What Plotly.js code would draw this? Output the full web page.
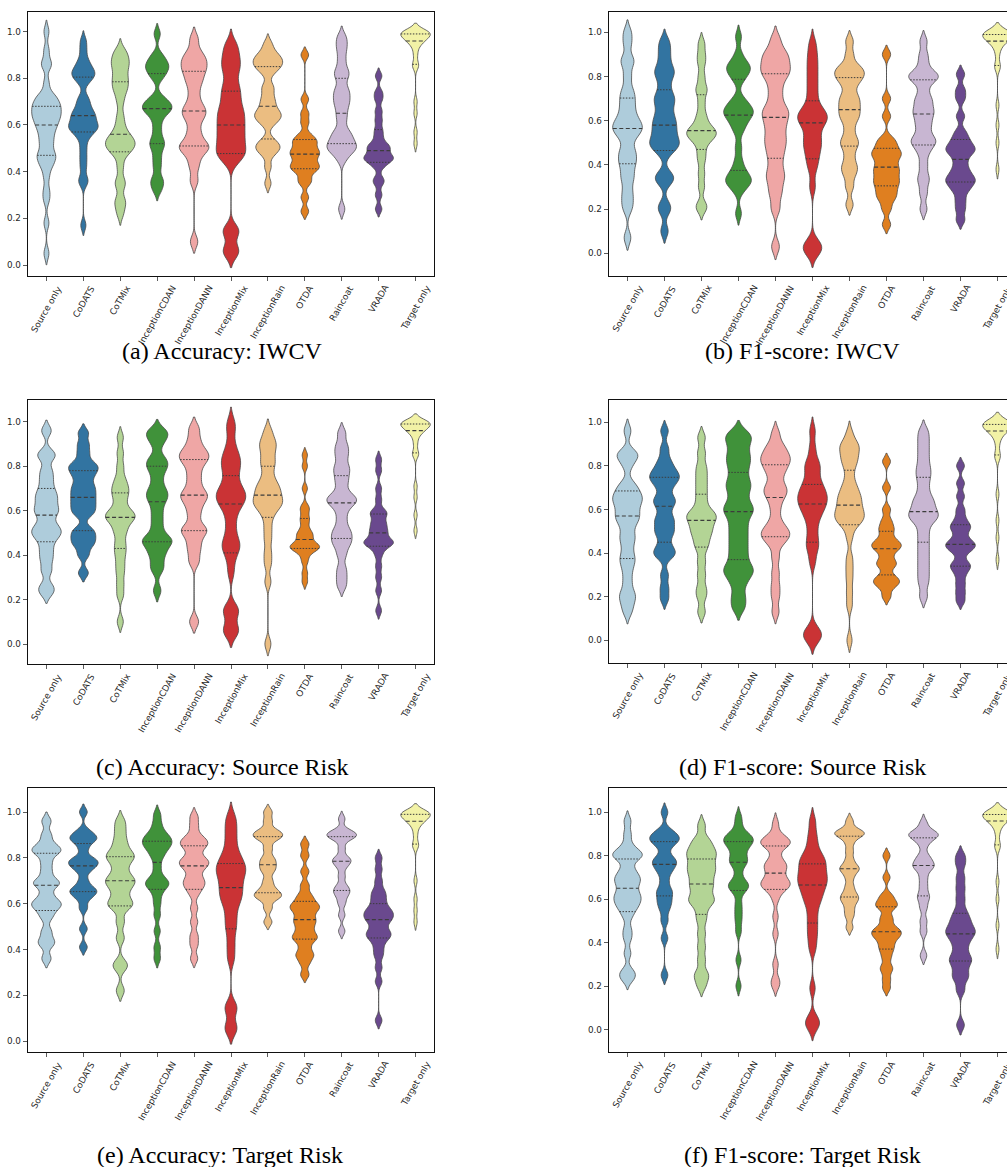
<!DOCTYPE html>
<html><head><meta charset="utf-8">
<script src="https://cdn.plot.ly/plotly-3.0.1.min.js"></script>
<style>html,body{margin:0;padding:0;overflow:hidden;background:#fff}#chart{width:1020px;height:1167px}</style>
</head><body><div id="chart"></div>
<script>
const categories = ["Source only","CoDATS","CoTMix","InceptionCDAN","InceptionDANN","InceptionMix","InceptionRain","OTDA","Raincoat","VRADA","Target only"];
const captions = ["(a) Accuracy: IWCV","(b) F1-score: IWCV","(c) Accuracy: Source Risk","(d) F1-score: Source Risk","(e) Accuracy: Target Risk","(f) F1-score: Target Risk"];
const yTicks = [0.0,0.2,0.4,0.6,0.8,1.0];
const palette = ["#a6cee3","#1f78b4","#b2df8a","#33a02c","#fb9a99","#e31a1c","#fdbf6f","#ff7f00","#cab2d6","#6a3d9a","#ffff99"];

// (a) Accuracy: IWCV  (one sample list per category, same order as categories)
const accIwcv = [
 [0.05,0.18,0.28,0.32,0.38,0.43,0.43,0.47,0.47,0.47,0.52,0.52,0.56,0.56,0.6,0.6,0.6,0.64,0.64,0.64,0.64,0.68,0.68,0.68,0.68,0.72,0.72,0.72,0.78,0.86,0.86,0.92,1.0],
 [0.17,0.35,0.37,0.42,0.46,0.5,0.54,0.56,0.58,0.58,0.59,0.6,0.6,0.62,0.63,0.64,0.65,0.66,0.68,0.7,0.72,0.78,0.8,0.81,0.82,0.83,0.84,0.86,0.88,0.92,0.96],
 [0.22,0.26,0.28,0.34,0.36,0.42,0.47,0.49,0.5,0.51,0.52,0.53,0.54,0.55,0.57,0.6,0.64,0.7,0.74,0.76,0.78,0.8,0.82,0.85,0.86,0.88,0.9,0.92],
 [0.32,0.35,0.37,0.42,0.46,0.5,0.52,0.54,0.58,0.62,0.65,0.66,0.67,0.68,0.69,0.7,0.72,0.8,0.82,0.84,0.85,0.86,0.88,0.9,0.99],
 [0.1,0.36,0.42,0.46,0.49,0.5,0.51,0.52,0.55,0.58,0.62,0.64,0.66,0.67,0.7,0.74,0.78,0.8,0.83,0.84,0.86,0.88,0.89,0.92,0.97],
 [0.05,0.06,0.065,0.14,0.145,0.15,0.44,0.46,0.47,0.48,0.5,0.5,0.52,0.54,0.55,0.56,0.58,0.6,0.6,0.62,0.64,0.65,0.66,0.68,0.7,0.72,0.74,0.76,0.78,0.82,0.84,0.86,0.88,0.9,0.93,0.95],
 [0.35,0.42,0.47,0.49,0.5,0.51,0.52,0.54,0.6,0.62,0.63,0.64,0.65,0.66,0.68,0.7,0.72,0.75,0.77,0.82,0.84,0.85,0.86,0.87,0.88,0.89,0.9,0.92,0.95],
 [0.23,0.29,0.35,0.37,0.4,0.41,0.42,0.43,0.44,0.46,0.47,0.48,0.49,0.5,0.52,0.53,0.54,0.56,0.61,0.65,0.71,0.9],
 [0.24,0.45,0.48,0.49,0.5,0.51,0.52,0.53,0.55,0.56,0.58,0.62,0.65,0.68,0.7,0.72,0.74,0.76,0.8,0.82,0.84,0.88,0.92,0.95,0.98],
 [0.24,0.3,0.35,0.37,0.42,0.44,0.45,0.46,0.46,0.47,0.49,0.5,0.51,0.52,0.55,0.58,0.62,0.66,0.71,0.74,0.81],
 [0.52,0.57,0.65,0.7,0.85,0.86,0.9,0.93,0.95,0.96,0.96,0.97,0.98,0.98,0.99,0.99,0.99,1.0,1.0,1.0,1.0]
];
// (b) F1-score: IWCV
const f1Iwcv = [
 [0.07,0.2,0.24,0.28,0.33,0.36,0.4,0.42,0.45,0.47,0.52,0.54,0.56,0.57,0.58,0.6,0.62,0.65,0.68,0.71,0.74,0.8,0.86,0.88,0.95,1.0],
 [0.1,0.19,0.22,0.32,0.34,0.36,0.45,0.48,0.49,0.5,0.52,0.54,0.56,0.58,0.6,0.62,0.65,0.68,0.7,0.72,0.76,0.8,0.82,0.84,0.88,0.92,0.96],
 [0.2,0.22,0.3,0.36,0.42,0.46,0.5,0.52,0.53,0.54,0.55,0.56,0.57,0.6,0.63,0.68,0.73,0.75,0.8,0.86,0.9,0.95],
 [0.18,0.28,0.31,0.32,0.33,0.34,0.36,0.38,0.42,0.48,0.55,0.58,0.6,0.62,0.63,0.64,0.65,0.66,0.68,0.7,0.78,0.81,0.82,0.84,0.85,0.86,0.9,0.98],
 [0.03,0.2,0.26,0.3,0.34,0.36,0.4,0.44,0.47,0.5,0.52,0.55,0.58,0.6,0.63,0.64,0.66,0.7,0.74,0.78,0.81,0.82,0.84,0.86,0.88,0.9,0.92,0.97],
 [0.0,0.02,0.03,0.05,0.3,0.38,0.42,0.45,0.48,0.5,0.52,0.55,0.58,0.6,0.6,0.62,0.63,0.64,0.66,0.7,0.74,0.78,0.82,0.86,0.9,0.95],
 [0.22,0.3,0.35,0.38,0.4,0.44,0.48,0.5,0.52,0.56,0.6,0.62,0.64,0.66,0.68,0.7,0.72,0.76,0.78,0.8,0.81,0.82,0.84,0.85,0.9,0.96],
 [0.13,0.2,0.24,0.26,0.28,0.3,0.32,0.33,0.35,0.37,0.38,0.4,0.42,0.44,0.45,0.46,0.48,0.5,0.52,0.62,0.7,0.9],
 [0.2,0.27,0.32,0.35,0.4,0.45,0.48,0.5,0.51,0.52,0.55,0.58,0.6,0.63,0.64,0.66,0.69,0.7,0.74,0.78,0.79,0.8,0.81,0.82,0.86,0.9,0.96],
 [0.15,0.2,0.24,0.28,0.3,0.32,0.33,0.34,0.36,0.38,0.41,0.44,0.46,0.47,0.48,0.5,0.52,0.55,0.62,0.7,0.74,0.81],
 [0.38,0.5,0.58,0.67,0.84,0.85,0.9,0.93,0.95,0.96,0.96,0.97,0.98,0.98,0.99,0.99,0.99,1.0,1.0,1.0,1.0]
];
// (c) Accuracy: Source Risk
const accSrc = [
 [0.23,0.26,0.33,0.38,0.42,0.46,0.49,0.5,0.52,0.54,0.58,0.6,0.62,0.65,0.67,0.7,0.74,0.78,0.84,0.86,0.96],
 [0.32,0.4,0.44,0.46,0.48,0.5,0.52,0.58,0.6,0.62,0.64,0.66,0.68,0.7,0.72,0.75,0.77,0.79,0.8,0.82,0.86,0.9,0.95],
 [0.1,0.22,0.27,0.32,0.36,0.4,0.43,0.46,0.5,0.52,0.55,0.56,0.57,0.58,0.59,0.6,0.63,0.66,0.68,0.7,0.72,0.75,0.8,0.86,0.93],
 [0.24,0.33,0.36,0.4,0.42,0.45,0.46,0.47,0.48,0.52,0.56,0.6,0.64,0.66,0.68,0.7,0.74,0.78,0.8,0.82,0.84,0.9,0.93,0.95,0.96],
 [0.1,0.37,0.42,0.46,0.5,0.51,0.53,0.58,0.62,0.65,0.67,0.68,0.72,0.76,0.8,0.83,0.84,0.86,0.88,0.92,0.97],
 [0.05,0.06,0.07,0.14,0.15,0.16,0.32,0.38,0.42,0.44,0.45,0.48,0.52,0.56,0.6,0.62,0.64,0.65,0.66,0.68,0.68,0.7,0.72,0.75,0.78,0.8,0.82,0.84,0.86,0.9,0.96,1.0],
 [0.0,0.28,0.36,0.41,0.47,0.52,0.57,0.6,0.62,0.63,0.64,0.65,0.67,0.68,0.7,0.71,0.73,0.76,0.8,0.82,0.85,0.88,0.9,0.92,0.96],
 [0.28,0.32,0.37,0.4,0.42,0.43,0.43,0.44,0.44,0.45,0.46,0.48,0.49,0.5,0.52,0.55,0.57,0.6,0.62,0.7,0.8,0.85],
 [0.26,0.3,0.34,0.4,0.44,0.46,0.48,0.5,0.52,0.56,0.6,0.63,0.64,0.65,0.66,0.68,0.72,0.75,0.78,0.8,0.84,0.87,0.9,0.95],
 [0.15,0.24,0.3,0.35,0.4,0.43,0.45,0.45,0.46,0.46,0.47,0.5,0.5,0.52,0.54,0.55,0.58,0.59,0.6,0.65,0.7,0.78,0.83],
 [0.51,0.58,0.66,0.71,0.85,0.86,0.9,0.93,0.95,0.96,0.96,0.97,0.98,0.98,0.99,0.99,0.99,1.0,1.0,1.0,1.0]
];
// (d) F1-score: Source Risk
const f1Src = [
 [0.13,0.17,0.2,0.22,0.27,0.32,0.36,0.38,0.42,0.46,0.48,0.52,0.55,0.56,0.58,0.6,0.62,0.64,0.65,0.66,0.68,0.7,0.72,0.8,0.84,0.85,0.86,0.96],
 [0.19,0.24,0.3,0.38,0.4,0.41,0.44,0.48,0.5,0.52,0.55,0.56,0.6,0.63,0.64,0.66,0.7,0.72,0.74,0.75,0.76,0.78,0.8,0.83,0.88,0.96],
 [0.13,0.2,0.24,0.3,0.36,0.42,0.45,0.48,0.5,0.52,0.54,0.56,0.57,0.58,0.6,0.64,0.68,0.72,0.76,0.8,0.86,0.93],
 [0.15,0.2,0.26,0.3,0.32,0.34,0.38,0.42,0.46,0.5,0.54,0.58,0.6,0.62,0.66,0.7,0.72,0.76,0.8,0.83,0.86,0.9,0.93,0.95],
 [0.13,0.2,0.25,0.31,0.38,0.44,0.46,0.48,0.49,0.5,0.52,0.55,0.6,0.64,0.67,0.68,0.7,0.72,0.76,0.78,0.8,0.82,0.83,0.84,0.86,0.88,0.9,0.95],
 [0.0,0.02,0.03,0.05,0.36,0.42,0.44,0.48,0.52,0.56,0.58,0.6,0.62,0.63,0.64,0.66,0.67,0.68,0.7,0.72,0.74,0.78,0.8,0.82,0.88,0.96],
 [0.0,0.16,0.22,0.28,0.33,0.38,0.47,0.52,0.54,0.55,0.56,0.57,0.58,0.6,0.6,0.62,0.64,0.65,0.66,0.68,0.7,0.72,0.76,0.8,0.82,0.84,0.86,0.88,0.9,0.9,0.95],
 [0.2,0.24,0.26,0.27,0.28,0.3,0.34,0.35,0.37,0.4,0.42,0.43,0.44,0.45,0.47,0.5,0.52,0.55,0.6,0.7,0.82],
 [0.2,0.26,0.3,0.34,0.38,0.42,0.46,0.5,0.54,0.56,0.57,0.58,0.6,0.62,0.64,0.66,0.7,0.74,0.77,0.8,0.84,0.88,0.92,0.96],
 [0.18,0.22,0.26,0.3,0.33,0.34,0.36,0.4,0.42,0.43,0.44,0.45,0.47,0.5,0.52,0.53,0.56,0.6,0.66,0.72,0.8],
 [0.37,0.47,0.55,0.67,0.84,0.85,0.9,0.93,0.95,0.96,0.96,0.97,0.98,0.98,0.99,0.99,0.99,1.0,1.0,1.0,1.0]
];
// (e) Accuracy: Target Risk
const accTgt = [
 [0.36,0.42,0.44,0.48,0.54,0.57,0.59,0.6,0.61,0.64,0.68,0.69,0.7,0.74,0.78,0.82,0.83,0.84,0.86,0.9,0.96],
 [0.41,0.49,0.58,0.62,0.64,0.65,0.66,0.67,0.7,0.74,0.76,0.77,0.78,0.79,0.8,0.84,0.87,0.88,0.89,0.9,0.92,1.0],
 [0.22,0.32,0.34,0.45,0.52,0.58,0.6,0.6,0.63,0.66,0.68,0.7,0.7,0.72,0.75,0.78,0.8,0.81,0.82,0.85,0.88,0.92,0.96],
 [0.36,0.41,0.48,0.55,0.6,0.64,0.67,0.68,0.69,0.7,0.72,0.76,0.8,0.82,0.84,0.85,0.86,0.87,0.88,0.89,0.9,0.92,0.95,0.99],
 [0.36,0.42,0.46,0.52,0.58,0.64,0.67,0.68,0.7,0.71,0.74,0.76,0.77,0.78,0.79,0.8,0.83,0.85,0.86,0.87,0.88,0.9,0.94,0.98],
 [0.05,0.06,0.14,0.15,0.36,0.42,0.48,0.52,0.56,0.6,0.62,0.64,0.66,0.68,0.7,0.72,0.74,0.75,0.76,0.78,0.8,0.82,0.86,0.9,0.94,0.98],
 [0.52,0.58,0.62,0.63,0.64,0.65,0.67,0.7,0.74,0.76,0.78,0.8,0.84,0.88,0.89,0.9,0.91,0.92,0.96,1.0],
 [0.29,0.34,0.37,0.38,0.41,0.44,0.45,0.46,0.48,0.5,0.52,0.53,0.55,0.57,0.58,0.59,0.6,0.62,0.64,0.68,0.74,0.81,0.86],
 [0.48,0.55,0.6,0.63,0.65,0.66,0.68,0.72,0.76,0.78,0.79,0.8,0.84,0.88,0.89,0.9,0.9,0.91,0.92,0.97],
 [0.09,0.26,0.32,0.37,0.4,0.43,0.45,0.46,0.47,0.48,0.5,0.52,0.53,0.54,0.55,0.56,0.57,0.58,0.6,0.62,0.64,0.66,0.7,0.75,0.8],
 [0.52,0.57,0.62,0.7,0.85,0.86,0.9,0.93,0.95,0.96,0.96,0.97,0.98,0.98,0.99,0.99,0.99,1.0,1.0,1.0,1.0]
];
// (f) F1-score: Target Risk
const f1Tgt = [
 [0.23,0.25,0.27,0.35,0.42,0.46,0.52,0.55,0.57,0.58,0.6,0.61,0.62,0.64,0.66,0.68,0.69,0.7,0.72,0.74,0.78,0.8,0.8,0.81,0.82,0.85,0.9,0.96],
 [0.25,0.42,0.5,0.55,0.58,0.6,0.63,0.64,0.68,0.72,0.74,0.76,0.77,0.78,0.8,0.84,0.86,0.87,0.88,0.89,0.9,0.92,1.0],
 [0.2,0.24,0.26,0.32,0.38,0.44,0.5,0.54,0.58,0.59,0.6,0.62,0.65,0.66,0.68,0.7,0.72,0.73,0.75,0.76,0.78,0.8,0.81,0.82,0.84,0.86,0.88,0.94],
 [0.2,0.32,0.45,0.5,0.54,0.58,0.63,0.65,0.66,0.67,0.68,0.72,0.76,0.77,0.78,0.8,0.82,0.84,0.85,0.86,0.87,0.88,0.88,0.9,0.9,0.94,0.98],
 [0.2,0.23,0.3,0.44,0.52,0.6,0.64,0.65,0.66,0.67,0.68,0.68,0.7,0.72,0.74,0.75,0.76,0.77,0.8,0.84,0.85,0.86,0.86,0.87,0.88,0.9,0.95],
 [0.01,0.03,0.05,0.19,0.37,0.42,0.46,0.5,0.54,0.58,0.6,0.62,0.64,0.66,0.67,0.68,0.7,0.71,0.72,0.74,0.76,0.77,0.78,0.8,0.82,0.86,0.9,0.96],
 [0.47,0.52,0.55,0.58,0.6,0.61,0.63,0.66,0.7,0.73,0.74,0.75,0.78,0.82,0.86,0.89,0.9,0.9,0.91,0.92,0.96],
 [0.19,0.23,0.27,0.29,0.33,0.36,0.38,0.4,0.42,0.43,0.44,0.45,0.46,0.47,0.5,0.52,0.56,0.57,0.58,0.6,0.62,0.7,0.8],
 [0.34,0.45,0.5,0.56,0.6,0.62,0.66,0.7,0.74,0.75,0.76,0.78,0.8,0.85,0.88,0.89,0.9,0.9,0.91,0.95],
 [0.02,0.18,0.23,0.25,0.28,0.31,0.32,0.34,0.37,0.4,0.42,0.44,0.45,0.46,0.48,0.5,0.52,0.55,0.6,0.65,0.7,0.76,0.8],
 [0.37,0.48,0.6,0.68,0.84,0.85,0.9,0.93,0.95,0.96,0.96,0.97,0.98,0.98,0.99,0.99,0.99,1.0,1.0,1.0,1.0]
];

// ---------- styling / helpers ----------
const W = 1020, H = 1167;
const VW = 0.8;          // violin width in category units
const BWF = 0.12;        // kde bandwidth factor (x sample std)
const TICKFONT = {family:'DejaVu Sans', size:8.8, color:'#262626'};
const panels = [
  {data: accIwcv, px:[28,434],  py:[12,276],  yr:[-0.047,1.084], cx:222, cy:351},
  {data: f1Iwcv,  px:[609,1016],py:[12,276],  yr:[-0.103,1.092], cx:802, cy:351},
  {data: accSrc,  px:[28,434],  py:[400,664], yr:[-0.090,1.098], cx:222, cy:767},
  {data: f1Src,   px:[609,1016],py:[400,663], yr:[-0.104,1.102], cx:802, cy:767},
  {data: accTgt,  px:[28,434],  py:[788,1052],yr:[-0.048,1.105], cx:220, cy:1155},
  {data: f1Tgt,   px:[609,1016],py:[788,1052],yr:[-0.104,1.112], cx:802, cy:1155}
];

function desat(hex, p){
  let r=parseInt(hex.slice(1,3),16)/255, g=parseInt(hex.slice(3,5),16)/255, b=parseInt(hex.slice(5,7),16)/255;
  const mx=Math.max(r,g,b), mn=Math.min(r,g,b); const l=(mx+mn)/2; let h=0,s=0;
  if(mx!==mn){ const d=mx-mn; s = l>0.5 ? d/(2-mx-mn) : d/(mx+mn);
    if(mx===r) h=((g-b)/d+(g<b?6:0)); else if(mx===g) h=(b-r)/d+2; else h=(r-g)/d+4; h/=6; }
  s*=p;
  function hue(p1,q,t){ if(t<0)t+=1; if(t>1)t-=1; if(t<1/6) return p1+(q-p1)*6*t; if(t<1/2) return q; if(t<2/3) return p1+(q-p1)*(2/3-t)*6; return p1; }
  let q = l<0.5 ? l*(1+s) : l+s-l*s, p1 = 2*l-q;
  const to=v=>Math.round(v*255).toString(16).padStart(2,'0');
  return '#'+to(hue(p1,q,h+1/3))+to(hue(p1,q,h))+to(hue(p1,q,h-1/3));
}
function stdev(a){ const m=a.reduce((s,v)=>s+v,0)/a.length; return Math.sqrt(a.reduce((s,v)=>s+(v-m)*(v-m),0)/(a.length-1)); }
function quant(a,p){ const s=[...a].sort((x,y)=>x-y); const idx=p*(s.length-1); const lo=Math.floor(idx), hi=Math.ceil(idx); return s[lo]+(s[hi]-s[lo])*(idx-lo); }
function kdeFn(a,bw){ const c=1/(a.length*bw*Math.sqrt(2*Math.PI)); return t=>{ let s=0; for(const v of a){ const z=(t-v)/bw; s+=Math.exp(-0.5*z*z);} return s*c; }; }

const traces = [], annotations = [], layout = {
  width: W, height: H, margin:{l:0,r:0,t:0,b:0}, showlegend:false,
  paper_bgcolor:'#ffffff', plot_bgcolor:'#ffffff',
  violinmode:'overlay', violingap:0, violingroupgap:0,
  font:{family:'DejaVu Sans', color:'#262626'}
};

panels.forEach((pn, k) => {
  const sx = k===0 ? '' : String(k+1);
  layout['xaxis'+sx] = {
    domain:[pn.px[0]/W, pn.px[1]/W], anchor:'y'+sx, type:'linear', range:[-0.5,10.5],
    tickmode:'array', tickvals: categories.map((c,i)=>i), showticklabels:false,
    ticks:'outside', ticklen:4, tickwidth:0.8, tickcolor:'#333',
    showline:true, mirror:true, linecolor:'#111', linewidth:1.3, showgrid:false, zeroline:false, fixedrange:true
  };
  layout['yaxis'+sx] = {
    domain:[1-pn.py[1]/H, 1-pn.py[0]/H], anchor:'x'+sx, range: pn.yr,
    tickmode:'array', tickvals: yTicks, ticktext: yTicks.map(v=>v.toFixed(1)),
    tickfont: TICKFONT,
    ticks:'outside', ticklen:4, tickwidth:0.8, tickcolor:'#333',
    showline:true, mirror:true, linecolor:'#111', linewidth:1.3, showgrid:false, zeroline:false, fixedrange:true
  };
  // rotated category labels, centred under each tick (matplotlib style)
  categories.forEach((c,i) => {
    annotations.push({xref:'x'+sx, yref:'paper', x:i, y:1-(pn.py[1]+6.5)/H, xanchor:'center', yanchor:'top',
      text:c, textangle:-60, showarrow:false, borderpad:0, font:TICKFONT});
  });
  annotations.push({xref:'paper', yref:'paper', x: pn.cx/W, y: 1-pn.cy/H, xanchor:'center', yanchor:'middle',
    text: captions[k], showarrow:false, font:{family:'Liberation Serif, Times New Roman, serif', size:24, color:'#000'}});

  pn.data.forEach((vals, i) => {
    const bw = BWF*stdev(vals);
    traces.push({
      type:'violin', x0:i, y:vals, xaxis:'x'+sx, yaxis:'y'+sx, name:categories[i], orientation:'v',
      width:VW, scalemode:'width', spanmode:'soft', bandwidth:bw, points:false,
      box:{visible:false}, meanline:{visible:false},
      fillcolor: desat(palette[i],0.75), line:{color:'#4a4a4a', width:0.8},
      hoverinfo:'skip', showlegend:false
    });
    // quartile lines (seaborn inner="quartile")
    const kde = kdeFn(vals,bw);
    const mn = Math.min(...vals)-2*bw, mx = Math.max(...vals)+2*bw;
    const n = Math.ceil((mx-mn)/(bw/3)), step=(mx-mn)/n;
    let maxK = 0; for(let t=mn; t<mx+step/2; t+=step) maxK=Math.max(maxK,kde(t));
    [0.25,0.5,0.75].forEach(p => {
      const q = quant(vals,p), hw = (VW/2)*kde(q)/maxK;
      traces.push({type:'scatter', mode:'lines', x:[i-hw,i+hw], y:[q,q], xaxis:'x'+sx, yaxis:'y'+sx,
        line:{color:'#3c3c3c', width: p===0.5?1.1:1, dash: p===0.5?'4px,2.5px':'1.5px,1.5px'},
        hoverinfo:'skip', showlegend:false});
    });
  });
});
layout.annotations = annotations;
Plotly.newPlot('chart', traces, layout, {staticPlot:true, displayModeBar:false});
</script></body></html>
